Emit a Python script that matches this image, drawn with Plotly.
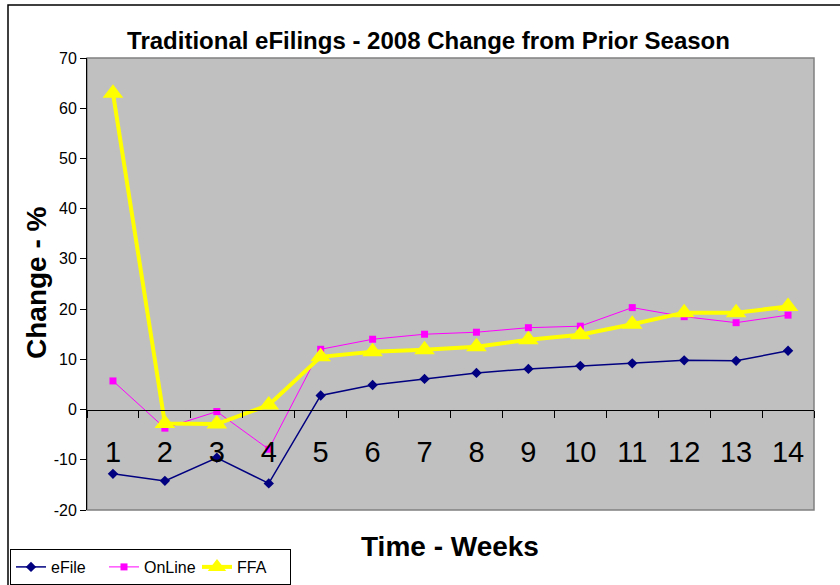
import plotly.graph_objects as go

weeks = [str(i) for i in range(1, 15)]
efile = [-12.8, -14.2, -9.6, -14.7, 2.8, 4.9, 6.1, 7.3, 8.1, 8.7, 9.2, 9.8, 9.7, 11.7]
online = [5.7, -3.7, -0.4, -7.9, 12.0, 14.0, 15.0, 15.4, 16.3, 16.6, 20.3, 18.5, 17.3, 18.8]
ffa = [63.0, -2.8, -2.9, 0.9, 10.5, 11.5, 11.9, 12.5, 13.9, 14.9, 17.0, 19.3, 19.3, 20.5]
y_tick_vals = [-20, -10, 0, 10, 20, 30, 40, 50, 60, 70]
y_tick_text = ["-20", "-10", "0", "10", "20", "30", "40", "50", "60", "70"]

W, H = 840, 585
L, R, T, B = 87, 814, 58, 510
pw, ph = R - L, B - T

def px_x(p):
    return (p - L) / pw

def px_y(p):
    return (B - p) / ph

ymin, ymax = -20, 70
zero_paper = (0 - ymin) / (ymax - ymin)

fig = go.Figure()
fig.add_trace(go.Scatter(x=weeks, y=efile, name="eFile", mode="lines+markers",
                         line=dict(color="#000080", width=1.5),
                         marker=dict(symbol="diamond", size=8, color="#000080")))
fig.add_trace(go.Scatter(x=weeks, y=online, name="OnLine", mode="lines+markers",
                         line=dict(color="#FF00FF", width=1),
                         marker=dict(symbol="square", size=7, color="#FF00FF")))
fig.add_trace(go.Scatter(x=weeks, y=ffa, name="FFA", mode="lines+markers",
                         line=dict(color="#FFFF00", width=4),
                         marker=dict(symbol="triangle-up", size=18, color="#FFFF00")))

font_family = "Liberation Sans, Arial, sans-serif"

fig.update_layout(
    width=W, height=H,
    margin=dict(l=L, r=W - R, t=T, b=H - B, pad=0, autoexpand=False),
    paper_bgcolor="white",
    plot_bgcolor="#C0C0C0",
    font=dict(family=font_family, color="black"),
    title=dict(text="<b>Traditional eFilings - 2008 Change from Prior Season</b>",
               x=428.5 / W, xanchor="center", y=1 - 41 / H, yanchor="middle",
               font=dict(size=24, family=font_family, color="black")),
    showlegend=True,
    legend=dict(orientation="h", x=px_x(10), y=px_y(549), xanchor="left", yanchor="top",
                bgcolor="white", bordercolor="black", borderwidth=1,
                font=dict(size=16, family=font_family, color="black"),
                entrywidth=48, entrywidthmode="pixels", tracegroupgap=0),
    xaxis=dict(type="category", categoryorder="array", categoryarray=weeks,
               anchor="free", position=zero_paper,
               showline=True, linecolor="black", linewidth=1,
               ticks="outside", ticklen=7, tickcolor="black", tickson="boundaries",
               showgrid=False, zeroline=False,
               tickfont=dict(size=29, family=font_family, color="black"),
               ticklabelstandoff=17,
               range=[-0.5, 13.5]),
    yaxis=dict(range=[ymin, ymax], tickmode="array", tickvals=y_tick_vals, ticktext=y_tick_text,
               showline=True, linecolor="black", linewidth=1,
               ticks="outside", ticklen=6, tickcolor="black",
               showgrid=False, zeroline=False,
               tickfont=dict(size=16, family=font_family, color="black")),
)

# Plot area border
fig.add_shape(type="rect", xref="paper", yref="paper", x0=0, y0=0, x1=1, y1=1,
              line=dict(color="#808080", width=1.5), layer="below")
# Chart outer border
fig.add_shape(type="rect", xref="paper", yref="paper",
              x0=px_x(8), y0=px_y(600), x1=px_x(860), y1=px_y(5),
              line=dict(color="black", width=1.5), layer="below")

fig.add_annotation(text="<b>Change - %</b>", xref="paper", yref="paper",
                   x=px_x(36), y=px_y(283), textangle=-90, showarrow=False,
                   xanchor="center", yanchor="middle",
                   font=dict(size=28, family=font_family, color="black"))
fig.add_annotation(text="<b>Time - Weeks</b>", xref="paper", yref="paper",
                   x=px_x(450), y=px_y(546), showarrow=False,
                   xanchor="center", yanchor="middle",
                   font=dict(size=28, family=font_family, color="black"))

fig.write_html("out.html", config={"displayModeBar": False},
               post_script="document.body.style.margin='0';document.body.style.padding='0';")
